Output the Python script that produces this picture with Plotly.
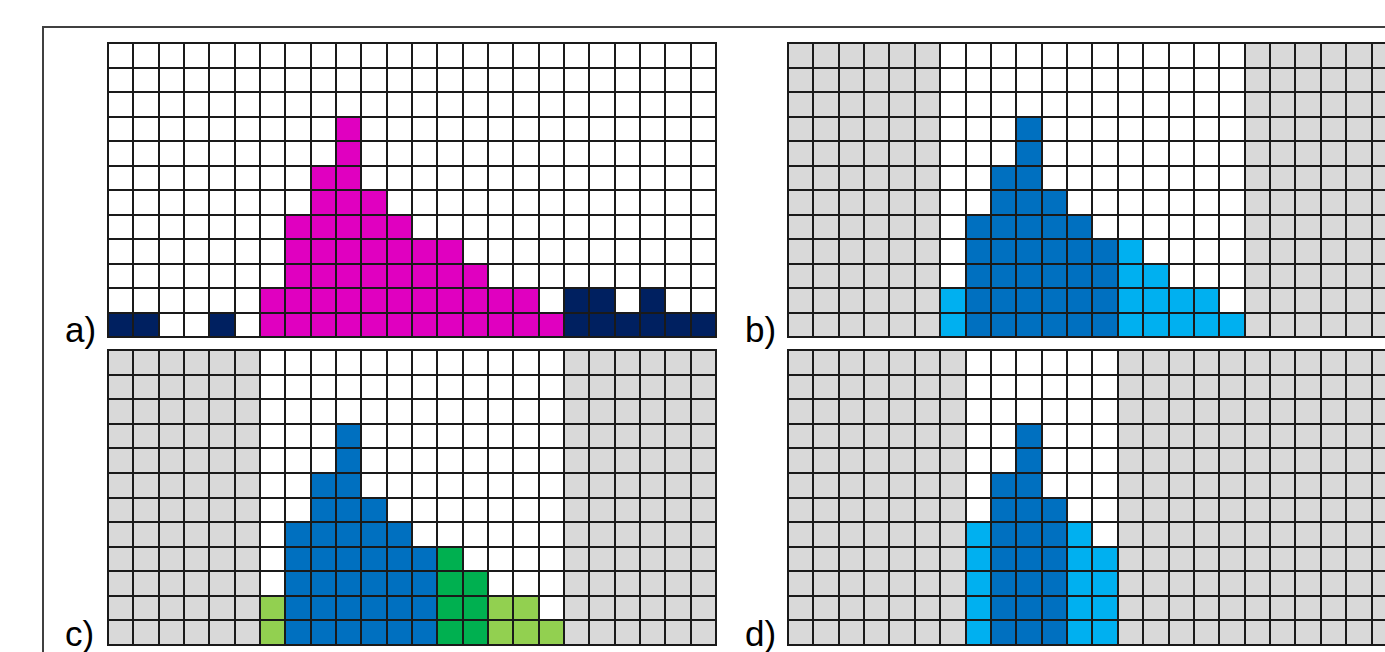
import plotly.graph_objects as go

# ---------------- data ----------------
columns = list(range(24))
n_rows = 12
heights = [1, 1, 0, 0, 1, 0, 2, 5, 7, 9, 6, 5, 4, 4, 3, 2, 2, 1, 2, 2, 1, 2, 1, 1]

panel_a_class = ["navy"] * 6 + ["magenta"] * 12 + ["navy"] * 6
panel_b_class = ["out"] * 6 + ["light blue"] + ["dark blue"] * 6 + ["light blue"] * 5 + ["out"] * 6
panel_c_class = ["out"] * 6 + ["light green"] + ["dark blue"] * 6 + ["green"] * 2 + ["light green"] * 3 + ["out"] * 6
panel_d_class = ["out"] * 7 + ["light blue"] + ["dark blue"] * 3 + ["light blue"] * 2 + ["out"] * 11

panel_labels = ["a)", "b)", "c)", "d)"]

# ---------------- styling ----------------
class_colors = {
    "empty": "#FFFFFF",
    "out": "#D9D9D9",
    "navy": "#002060",
    "magenta": "#E000C0",
    "dark blue": "#0070C0",
    "light blue": "#00B0F0",
    "green": "#00B050",
    "light green": "#92D050",
}
names = list(class_colors.keys())
code = {k: i for i, k in enumerate(names)}
N = len(names)
colorscale = []
for i, k in enumerate(names):
    colorscale.append([i / N, class_colors[k]])
    colorscale.append([(i + 1) / N, class_colors[k]])

W, H = 1385, 652


def grid_z(classes):
    z = []
    for r in range(n_rows):
        row = []
        for c in columns:
            cl = classes[c]
            if cl == "out":
                v = code["out"]
            elif r < heights[c]:
                v = code[cl]
            else:
                v = code["empty"]
            row.append(v + 0.5)
        z.append(row)
    return z


# panel pixel boxes (left, right, top, bottom) at grid line centres
boxes = [
    (108, 716, 43, 337),
    (788, None, 43, 337),
    (108, 716, 350, 645),
    (788, None, 350, 645),
]
cell_w = 25.37

fig = go.Figure()
layout_axes = {}
for i, (classes, box) in enumerate(zip([panel_a_class, panel_b_class, panel_c_class, panel_d_class], boxes)):
    ax = "" if i == 0 else str(i + 1)
    left, right, top, bottom = box
    if right is None:
        xr = [-0.5 - 1 / cell_w, (W - left) / cell_w - 0.5]
        xd = [(left - 1) / W, 1.0]
    else:
        cw = (right - left) / 24
        xr = [-0.5 - 1 / cw, 23.5 + 1 / cw]
        xd = [(left - 1) / W, (right + 1) / W]
    ch = (bottom - top) / n_rows
    yr = [-0.5 - 1 / ch, n_rows - 0.5 + 1 / ch]
    yd = [1 - (bottom + 1) / H, 1 - (top - 1) / H]
    fig.add_trace(go.Heatmap(
        z=grid_z(classes), x=columns, y=list(range(n_rows)),
        colorscale=colorscale, zmin=0, zmax=N, showscale=False,
        xgap=2, ygap=2, hoverinfo="skip",
        xaxis="x" + ax, yaxis="y" + ax,
    ))
    common = dict(showgrid=False, zeroline=False, showticklabels=False, ticks="", fixedrange=True)
    layout_axes["xaxis" + ax] = dict(domain=xd, range=xr, anchor="y" + ax, **common)
    layout_axes["yaxis" + ax] = dict(domain=yd, range=yr, anchor="x" + ax, **common)

label_pos = [(63, 329), (743, 329), (63, 633), (743, 633)]
annotations = []
for lab, (lx, ly) in zip(panel_labels, label_pos):
    annotations.append(dict(
        text=lab, x=lx / W, y=1 - ly / H, xref="paper", yref="paper",
        xanchor="left", yanchor="middle", showarrow=False,
        font=dict(family="Liberation Sans, Arial", size=35, color="#000000"),
    ))

fig.update_layout(
    width=W, height=H, margin=dict(l=0, r=0, t=0, b=0),
    paper_bgcolor="#FFFFFF", plot_bgcolor="#1A1A1A",
    annotations=annotations,
    shapes=[dict(type="rect", xref="paper", yref="paper",
                 x0=43 / W, x1=1.02, y0=-0.05, y1=1 - 27 / H,
                 line=dict(color="#404040", width=2), fillcolor="rgba(0,0,0,0)", layer="below")],
    **layout_axes,
)

fig.write_html("out.html", config={"displayModeBar": False},
               post_script="document.body.style.margin='0';")
